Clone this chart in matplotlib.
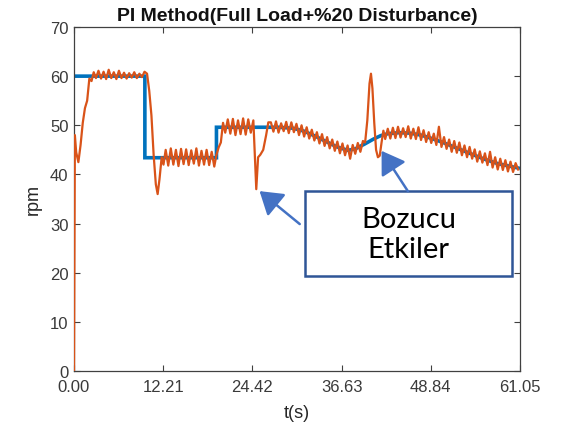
import numpy as np
import matplotlib
matplotlib.use("Agg")
import matplotlib.pyplot as plt
from matplotlib.patches import Rectangle, FancyArrowPatch

# ---------------- data ----------------
title = "PI Method(Full Load+%20 Disturbance)"
x_label = "t(s)"
y_label = "rpm"
x_ticks = [0.00, 12.21, 24.42, 36.63, 48.84, 61.05]
y_ticks = [0, 10, 20, 30, 40, 50, 60, 70]
note_text = "Bozucu\nEtkiler"

# reference speed (blue)
t_ref = [0.0, 9.7, 9.7, 19.5, 19.5, 28.0, 30.0, 31.5, 33.0, 34.5, 36.0, 37.5,
         38.5, 39.8, 41.0, 42.0, 43.0, 44.5, 46.0, 47.5, 49.0, 50.5, 52.0,
         54.0, 56.0, 58.0, 60.8]
v_ref = [60.0, 60.0, 43.4, 43.4, 49.6, 49.6, 49.4, 48.8, 47.8, 46.7, 45.6, 44.9,
         45.2, 46.2, 47.2, 47.9, 48.3, 48.5, 48.4, 48.0, 47.3, 46.5, 45.6,
         44.4, 43.2, 42.2, 41.3]

# measured speed (orange)
t_act = [0.0, 0.12, 0.3, 0.6, 0.9, 1.2, 1.5, 1.8, 2.1, 2.4, 2.7, 3.0,
         3.35, 3.7, 4.05, 4.4, 4.75, 5.1, 5.45, 5.8, 6.15, 6.5, 6.85, 7.2,
         7.55, 7.9, 8.25, 8.6, 8.95, 9.3, 9.65,
         10.0, 10.3, 10.6, 10.9, 11.2, 11.45, 11.7, 12.0, 12.25, 12.55,
         12.9, 13.25, 13.6, 13.95, 14.3, 14.65, 15.0, 15.35, 15.7, 16.05,
         16.4, 16.75, 17.1, 17.45, 17.8, 18.15, 18.5, 18.85, 19.2,
         19.5, 19.8, 20.1, 20.4, 20.7,
         21.05, 21.4, 21.75, 22.1, 22.45, 22.8, 23.15, 23.5, 23.85, 24.2, 24.55,
         24.75, 24.95, 25.2, 25.5, 25.9, 26.3, 26.6,
         26.95, 27.3, 27.65, 28.0, 28.35, 28.7, 29.05, 29.4, 29.75, 30.1,
         30.45, 30.8, 31.15, 31.5, 31.85, 32.2, 32.55, 32.9, 33.25, 33.6,
         33.95, 34.3, 34.65, 35.0, 35.35, 35.7, 36.05, 36.4, 36.75, 37.1,
         37.45, 37.8, 38.15, 38.5, 38.85, 39.2, 39.55,
         39.85, 40.15, 40.45, 40.65, 40.85, 41.1, 41.35, 41.6, 41.85, 42.1,
         42.35, 42.6,
         42.95, 43.3, 43.65, 44.0, 44.35, 44.7, 45.05, 45.4, 45.75, 46.1,
         46.45, 46.8, 47.15, 47.5, 47.85, 48.2, 48.55, 48.9, 49.25, 49.6,
         49.95, 50.3, 50.65, 51.0, 51.35, 51.7, 52.05, 52.4, 52.75, 53.1,
         53.45, 53.8, 54.15, 54.5, 54.85, 55.2, 55.55, 55.9, 56.25, 56.6,
         56.95, 57.3, 57.65, 58.0, 58.35, 58.7, 59.05, 59.4, 59.75, 60.1,
         60.45, 60.8]
v_act = [0.0, 48.0, 44.5, 42.5, 46.0, 50.5, 53.5, 55.0, 59.5, 59.0, 60.8, 59.6,
         61.1, 59.5, 60.9, 59.4, 61.3, 59.6, 60.8, 59.4, 61.1, 59.6, 60.7, 59.5,
         60.6, 59.7, 60.8, 59.6, 60.5, 59.8, 60.9,
         60.5, 57.0, 52.0, 44.0, 38.0, 36.0, 39.0, 43.5, 42.0, 45.0,
         41.8, 45.3, 42.0, 45.0, 41.7, 45.2, 42.1, 45.1, 41.9, 44.9,
         42.2, 45.3, 41.8, 44.8, 42.0, 45.0, 41.9, 44.6, 41.6,
         44.0, 45.5, 46.5, 50.5, 48.5,
         51.2, 48.3, 51.3, 48.0, 51.0, 48.2, 51.4, 48.1, 51.2, 48.5, 51.0,
         44.0, 37.0, 43.5, 44.0, 45.0, 48.0, 50.6,
         50.6, 48.7, 50.8, 48.5, 50.4, 48.8, 50.7, 48.4, 50.6, 48.6,
         50.3, 48.0, 50.0, 47.7, 49.6, 47.3, 49.1, 46.9, 48.6, 46.3,
         48.2, 45.8, 47.6, 45.3, 47.1, 44.8, 46.7, 44.3, 46.3, 43.9,
         45.9, 43.2, 46.0, 44.2, 46.4, 44.6, 46.8,
         46.5, 51.0, 58.5, 60.5, 57.5, 50.5, 45.0, 43.5, 43.8, 46.5,
         48.9, 47.2,
         49.3, 47.3, 49.5, 47.4, 49.7, 47.5, 49.4, 47.6, 49.8, 47.3,
         49.3, 47.2, 49.6, 47.0, 49.0, 46.6, 48.6, 46.4, 48.3, 46.0,
         49.7, 45.6, 47.6, 45.2, 47.1, 44.6, 46.8, 44.4, 46.5, 43.9,
         45.9, 43.5, 45.6, 43.2, 45.1, 42.6, 44.7, 42.4, 44.3, 41.9,
         44.6, 41.4, 43.5, 41.0, 43.2, 40.9, 42.9, 40.6, 42.6, 40.5,
         42.3, 41.0]

# ---------------- figure ----------------
plt.rcParams["font.family"] = ["Liberation Sans", "DejaVu Sans"]

W, H = 569, 431
fig = plt.figure(figsize=(W / 100, H / 100), dpi=100)
ax = fig.add_axes([74 / W, (H - 372) / H, 446 / W, 344 / H])

blue = "#0072BD"
orange = "#D95319"
axcol = "#404040"

ax.plot(t_ref, v_ref, color=blue, lw=2.6, solid_joinstyle="miter", zorder=2)
ax.plot(t_act, v_act, color=orange, lw=1.6, zorder=3)

ax.set_xlim(x_ticks[0], x_ticks[-1])
ax.set_ylim(y_ticks[0], y_ticks[-1])
ax.set_xticks(x_ticks)
ax.set_xticklabels([f"{v:.2f}" for v in x_ticks])
ax.set_yticks(y_ticks)

ax.tick_params(direction="in", top=True, right=True, length=4, width=0.8,
               color=axcol, labelcolor="#3a3a3a", labelsize=12)
ax.tick_params(axis="x", pad=6)
ax.tick_params(axis="y", pad=4)
for sp in ax.spines.values():
    sp.set_color(axcol)
    sp.set_linewidth(0.9)

ax.set_title(title, fontweight="bold", fontsize=14, color="#111111", pad=5)
ax.set_xlabel(x_label, fontsize=13, color="#262626", labelpad=7)
ax.set_ylabel(y_label, fontsize=13, color="#262626", labelpad=6)

# ---------------- annotation ----------------
box_col = "#2F5597"
arrow_col = "#4472C4"
box_x0, box_x1 = 31.6, 59.95
box_y0, box_y1 = 19.3, 36.6
ax.add_patch(Rectangle((box_x0, box_y0), box_x1 - box_x0, box_y1 - box_y0,
                       facecolor="white", edgecolor=box_col, lw=1.8, zorder=5))
ax.text((box_x0 + box_x1) / 2, (box_y0 + box_y1) / 2, note_text,
        ha="center", va="center", fontfamily="Lato", fontsize=21,
        linespacing=1.2, color="black", zorder=6)

arrows = [((30.9, 29.9), (25.4, 36.6)),
          ((45.7, 36.6), (42.1, 44.8))]
for start, end in arrows:
    ax.add_patch(FancyArrowPatch(start, end, arrowstyle="-|>,head_length=8.5,head_width=5.5",
                                 color=arrow_col, lw=1.8, mutation_scale=1.6,
                                 shrinkA=0, shrinkB=0, zorder=6))

fig.savefig("out.png", dpi=100, facecolor="white")
